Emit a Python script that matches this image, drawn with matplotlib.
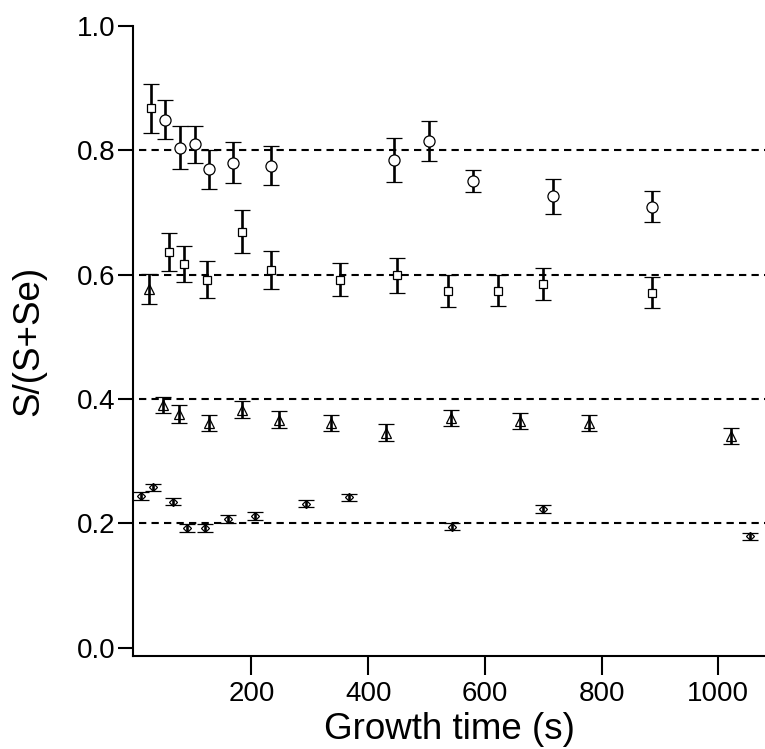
import numpy as np
import matplotlib
matplotlib.use("Agg")
import matplotlib.pyplot as plt

plt.rcParams["font.family"] = ["Liberation Sans", "DejaVu Sans"]

# circle series (~0.8)
t_circ = [52, 77, 103, 127, 169, 233, 445, 504, 579, 717, 886]
v_circ = [0.849, 0.804, 0.809, 0.769, 0.780, 0.775, 0.784, 0.814, 0.750, 0.726, 0.709]
e_circ = [0.032, 0.034, 0.030, 0.031, 0.033, 0.031, 0.035, 0.032, 0.018, 0.028, 0.025]

# square series (~0.6)
t_sq = [27, 58, 85, 124, 184, 233, 351, 449, 536, 623, 699, 886]
v_sq = [0.867, 0.636, 0.617, 0.592, 0.669, 0.607, 0.592, 0.599, 0.574, 0.574, 0.585, 0.571]
e_sq = [0.039, 0.031, 0.029, 0.030, 0.035, 0.030, 0.026, 0.028, 0.026, 0.025, 0.026, 0.025]

# triangle series (~0.37)
t_tri = [25, 48, 76, 127, 184, 247, 337, 431, 542, 660, 778, 1021]
v_tri = [0.577, 0.390, 0.376, 0.362, 0.383, 0.367, 0.362, 0.346, 0.370, 0.364, 0.362, 0.340]
e_tri = [0.024, 0.013, 0.014, 0.013, 0.013, 0.013, 0.013, 0.013, 0.013, 0.013, 0.013, 0.013]

# small diamond series (~0.2)
t_dia = [10, 31, 65, 90, 121, 159, 206, 294, 367, 544, 700, 1055]
v_dia = [0.244, 0.258, 0.235, 0.193, 0.193, 0.207, 0.212, 0.232, 0.242, 0.195, 0.223, 0.179]
e_dia = [0.006, 0.006, 0.006, 0.006, 0.006, 0.006, 0.006, 0.006, 0.006, 0.006, 0.006, 0.006]

ref_levels = [0.2, 0.4, 0.6, 0.8]
x_ticks = [200, 400, 600, 800, 1000]
y_ticks = [0.0, 0.2, 0.4, 0.6, 0.8, 1.0]

fig = plt.figure(figsize=(7.65, 7.49), dpi=100)
ax = fig.add_axes([0.1739, 0.1242, 0.8261, 0.8416])

# dashed reference lines
ax.hlines(ref_levels, 8, 1080, colors="black", linewidth=1.5,
          linestyles=(0, (3.5, 2.5)), zorder=1)

common = dict(ls="none", ecolor="black", elinewidth=1.9, capsize=6,
              capthick=1.9, markeredgecolor="black", markeredgewidth=0.9, zorder=3)

ax.errorbar(t_circ, v_circ, yerr=e_circ, fmt="o", ms=8, mfc="white", **common)
ax.errorbar(t_sq, v_sq, yerr=e_sq, fmt="s", ms=6, mfc="white", **common)
ax.errorbar(t_tri, v_tri, yerr=e_tri, fmt="^", ms=6.5, mfc="none", **common)
ax.errorbar(t_dia, v_dia, yerr=e_dia, fmt="D", ms=4, mfc="none", **common)

ax.set_xlim(-3, 1080)
ax.set_ylim(-0.013, 1.0)
ax.set_xticks(x_ticks)
ax.set_yticks(y_ticks)
ax.set_yticklabels([f"{v:.1f}" for v in y_ticks])

for s in ["top", "right"]:
    ax.spines[s].set_visible(False)
for s in ["left", "bottom"]:
    ax.spines[s].set_linewidth(1.5)

ax.tick_params(axis="y", direction="out", length=10.8, width=1.5, labelsize=20, pad=2)
ax.tick_params(axis="x", direction="out", length=13.7, width=1.5, labelsize=20, pad=4)

ax.set_xlabel("Growth time (s)", fontsize=26.5, labelpad=4)
ax.set_ylabel("S/(S+Se)", fontsize=26.5, labelpad=22)

fig.savefig("out.png", dpi=100)
